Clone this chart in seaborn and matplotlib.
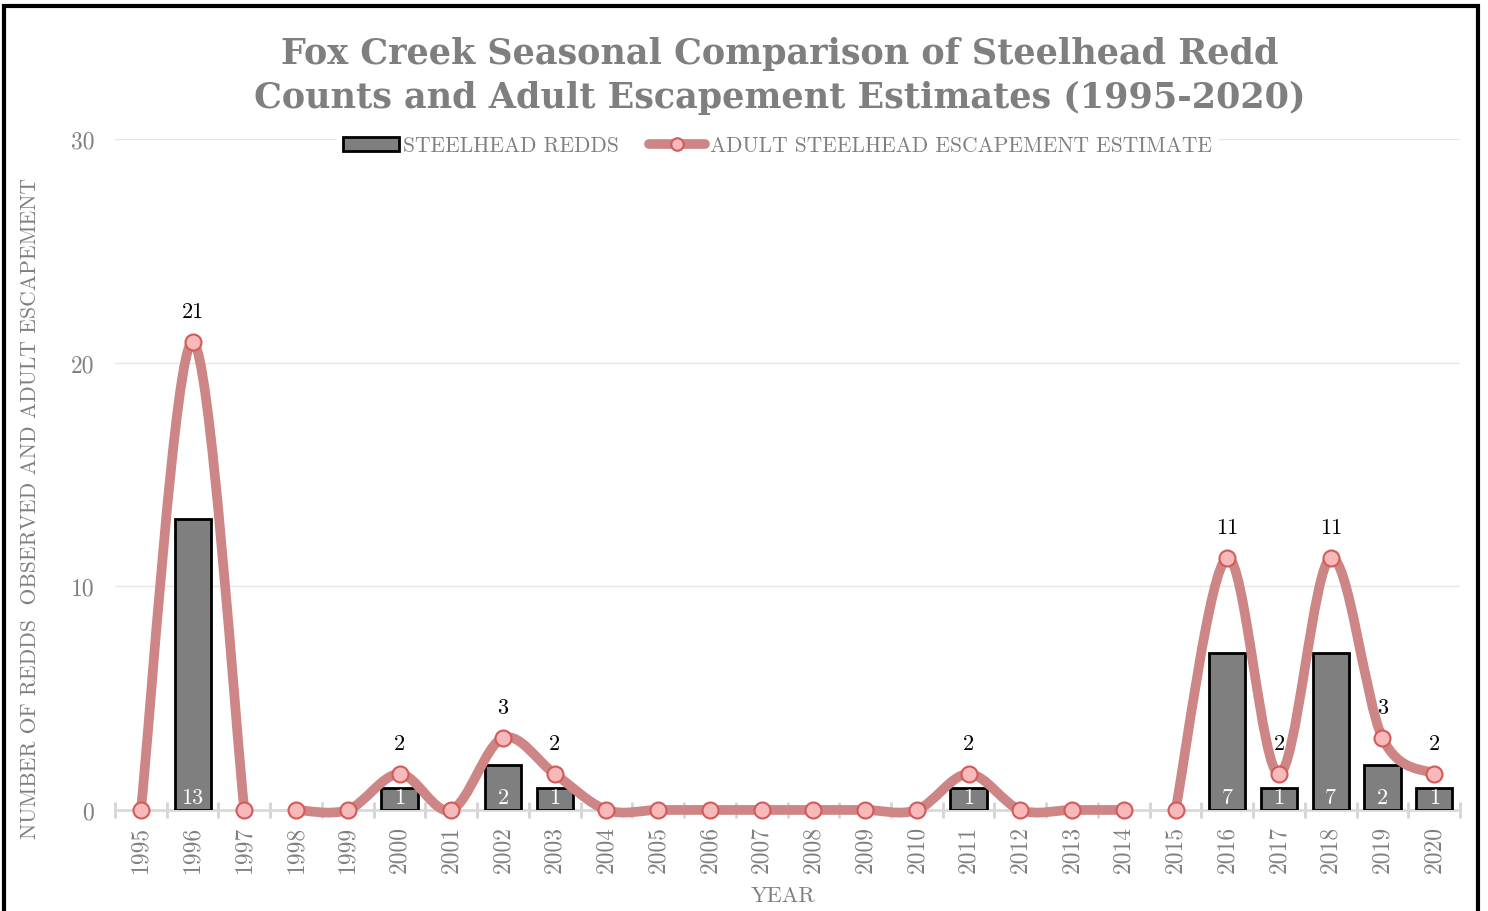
import matplotlib.pyplot as plt
import seaborn as sns
import pandas as pd
import numpy as np
from matplotlib.path import Path
from matplotlib.patches import PathPatch, Patch, Rectangle
from matplotlib.lines import Line2D

sns.set_style("white")

# Data
years = list(range(1995, 2021))
redds = [0, 13, 0, 0, 0, 1, 0, 2, 1, 0, 0, 0, 0, 0, 0, 0,
         1, 0, 0, 0, 0, 7, 1, 7, 2, 1]
escapement = [0, 20.93, 0, 0, 0, 1.61, 0, 3.22, 1.61, 0, 0, 0, 0, 0, 0, 0,
              1.61, 0, 0, 0, 0, 11.27, 1.61, 11.27, 3.22, 1.61]
# line is not drawn across these year gaps
line_breaks = [1997, 2014]

title = "Fox Creek Seasonal Comparison of Steelhead Redd\nCounts and Adult Escapement Estimates (1995-2020)"
y_label = "NUMBER OF REDDS  OBSERVED AND ADULT ESCAPEMENT"

df = pd.DataFrame({'year': [str(y) for y in years], 'redds': redds, 'esc': escapement})

SERIF = 'cmr10'
GRAY = '#7f7f7f'
LINE_C = '#cd8585'

fig = plt.figure(figsize=(14.88, 9.12), dpi=100)
ax = fig.add_axes([0.0773, 0.1108, 0.9039, 0.7357])

sns.barplot(data=df, x='year', y='redds', color='#7f7f7f', saturation=1,
            edgecolor='black', linewidth=2, width=0.7, ax=ax, zorder=2)
# no outline for empty years
for bar in ax.patches:
    if bar.get_height() == 0:
        bar.set_linewidth(0)


def smooth_path(xs, ys):
    # Excel-like smoothed line: cubic bezier through points
    pts = np.column_stack([xs, ys]).astype(float)
    n = len(pts)
    verts = [pts[0]]
    codes = [Path.MOVETO]
    for i in range(n - 1):
        p_prev = pts[i - 1] if i > 0 else pts[i]
        p_next = pts[i + 2] if i + 2 < n else pts[i + 1]
        c1 = pts[i] + (pts[i + 1] - p_prev) / 6
        c2 = pts[i + 1] - (p_next - pts[i]) / 6
        verts += [c1, c2, pts[i + 1]]
        codes += [Path.CURVE4] * 3
    return Path(verts, codes)


# split into segments at the breaks
segments = []
start = 0
for i, yr in enumerate(years):
    if yr in line_breaks or i == len(years) - 1:
        segments.append((start, i + 1))
        start = i + 1

for s, e in segments:
    xs = np.arange(s, e)
    ys = df['esc'].values[s:e]
    patch = PathPatch(smooth_path(xs, ys), facecolor='none', edgecolor=LINE_C,
                      lw=7, capstyle='round', joinstyle='round', zorder=3, clip_on=False)
    ax.add_patch(patch)

ax.plot(np.arange(len(years)), df['esc'], ls='none', marker='o', ms=11.5,
        mfc='#f7b9b9', mec='#d45a5a', mew=1.5, zorder=4, clip_on=False)

# labels
for i, (r, e) in enumerate(zip(redds, escapement)):
    if r > 0:
        ax.annotate(str(r), (i, 0), xytext=(0, 2), textcoords='offset points',
                    ha='center', va='bottom', color='white', fontsize=16, family=SERIF, zorder=5)
    if e > 0:
        ax.annotate(f"{e:.0f}", (i, e), xytext=(0, 22), textcoords='offset points',
                    ha='center', va='center', color='black', fontsize=16, family=SERIF, zorder=5)

# axes styling
ax.set_ylim(0, 30)
ax.set_yticks([0, 10, 20, 30])
ax.set_xlim(-0.5, len(years) - 0.5)
ax.yaxis.grid(True, color='#e6e6e6', lw=1)
ax.set_axisbelow(True)
for side in ['top', 'right', 'left']:
    ax.spines[side].set_visible(False)
ax.spines['bottom'].set_color('#d9d9d9')
ax.spines['bottom'].set_linewidth(2)
ax.spines['bottom'].set_zorder(1)

ax.set_xticks(np.arange(-0.5, len(years), 1), minor=True)
ax.tick_params(axis='x', which='minor', bottom=True, direction='inout', length=12,
               width=2, color='#d4d4d4')
ax.tick_params(axis='x', which='major', bottom=True, length=0, pad=11, labelrotation=90,
               labelsize=17, labelcolor=GRAY)
ax.tick_params(axis='y', length=0, pad=15, labelsize=17, labelcolor=GRAY)
for lbl in ax.get_xticklabels() + ax.get_yticklabels():
    lbl.set_family(SERIF)

ax.set_xlabel('')
ax.set_ylabel('')
fig.text(783 / 1488, 1 - 896 / 912, 'YEAR', ha='center', va='center',
         fontsize=16, color=GRAY, family=SERIF)
fig.text(30 / 1488, 1 - 508 / 912, y_label, ha='center', va='center', rotation=90,
         fontsize=15.6, color=GRAY, family=SERIF)

fig.text(780 / 1488, 1 - 76 / 912, title, ha='center', va='center', fontsize=25.2,
         fontweight='bold', color=GRAY, family='DejaVu Serif', linespacing=1.4)

# legend
handles = [Patch(facecolor='#7f7f7f', edgecolor='black', lw=2, label='STEELHEAD REDDS'),
           Line2D([], [], color=LINE_C, lw=7, marker='o', ms=9, mfc='#f7b9b9',
                  mec='#d45a5a', mew=1.5, solid_capstyle='round',
                  label='ADULT STEELHEAD ESCAPEMENT ESTIMATE')]
leg = ax.legend(handles=handles, loc='center', bbox_to_anchor=(0.4925, 0.99), ncol=2,
                frameon=True, facecolor='white', edgecolor='white', framealpha=1,
                prop={'family': SERIF, 'size': 15.5}, handlelength=2.6, handleheight=0.6,
                handletextpad=0.2, columnspacing=1.4, borderpad=0.3)
for t in leg.get_texts():
    t.set_color(GRAY)

# outer border
fig.patches.append(Rectangle((0.0024, -0.02), 0.9909, 1.0123, transform=fig.transFigure,
                             fill=False, ec='black', lw=3))

plt.savefig('out.png', dpi=100)
